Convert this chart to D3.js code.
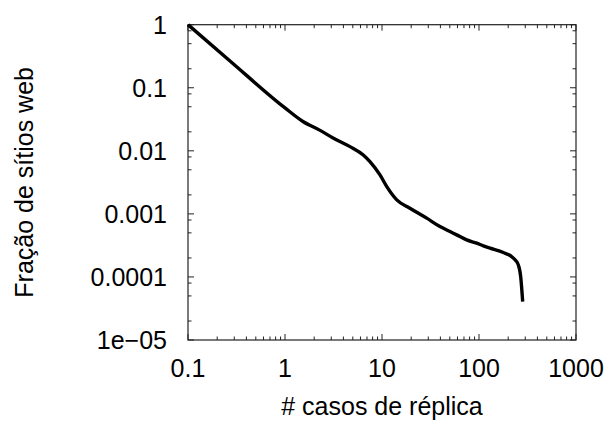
<!DOCTYPE html>
<html>
<head>
<meta charset="utf-8">
<script src="https://cdn.jsdelivr.net/npm/d3@7"></script>
<style>
  body { margin: 0; background: #fff; }
  text { font-family: "Liberation Sans", Arial, Helvetica, sans-serif; fill: #000; }
</style>
</head>
<body>
<svg id="chart" width="611" height="423"></svg>
<script>
// Data
const replicaCases = [0.1, 0.271, 1.0, 1.53, 2.30, 3.13, 4.68, 6.41, 7.51, 9.53, 11.2, 14.2, 19.4, 28.9, 39.6, 50.2, 58.9, 74.6, 94.6, 111, 130, 178, 226, 254, 269, 282];
const siteFraction = [1, 0.266, 0.0479, 0.0292, 0.0211, 0.0160, 0.01166, 0.0086, 0.00674, 0.00415, 0.00271, 0.00167, 0.00123, 0.000855, 0.000629, 0.000524, 0.000465, 0.000387, 0.000343, 0.000311, 0.000286, 0.000244, 0.000199, 0.000156, 0.000101, 0.0000407];

const xTickValues = [0.1, 1, 10, 100, 1000];
const xTickLabels = ["0.1", "1", "10", "100", "1000"];
const yTickValues = [1, 0.1, 0.01, 0.001, 0.0001, 0.00001];
const yTickLabels = ["1", "0.1", "0.01", "0.001", "0.0001", "1e\u221205"];
const xMinorMultipliers = [2, 3, 4, 5, 6, 7, 8, 9];
const yMinorMultipliers = [2, 5, 8];

const xTitle = "# casos de réplica";
const yTitle = "Fração de sítios web";

(function () {
const svg = d3.select("#chart");
const pLeft = 188, pRight = 576, pTop = 24.7, pBottom = 340;
const fs = 25;

const x = d3.scaleLog().domain([0.1, 1000]).range([pLeft, pRight]);
const y = d3.scaleLog().domain([0.00001, 1]).range([pBottom, pTop]);

const xMinor = [];
[0.1, 1, 10, 100].forEach(d => xMinorMultipliers.forEach(m => xMinor.push(d * m)));
const yMinor = [];
[0.00001, 0.0001, 0.001, 0.01, 0.1].forEach(d => yMinorMultipliers.forEach(m => yMinor.push(d * m)));

const axisColor = "#222";
const g = svg.append("g");

g.append("rect")
  .attr("x", pLeft).attr("y", pTop)
  .attr("width", pRight - pLeft).attr("height", pBottom - pTop)
  .attr("fill", "none").attr("stroke", axisColor).attr("stroke-width", 1.2);

const majorLen = 6, minorLen = 3.5;
function xTicks(vals, len) {
  vals.forEach(v => {
    g.append("line").attr("x1", x(v)).attr("x2", x(v)).attr("y1", pBottom).attr("y2", pBottom - len)
      .attr("stroke", axisColor).attr("stroke-width", 1);
    g.append("line").attr("x1", x(v)).attr("x2", x(v)).attr("y1", pTop).attr("y2", pTop + len)
      .attr("stroke", axisColor).attr("stroke-width", 1);
  });
}
function yTicks(vals, len) {
  vals.forEach(v => {
    g.append("line").attr("y1", y(v)).attr("y2", y(v)).attr("x1", pLeft).attr("x2", pLeft + len)
      .attr("stroke", axisColor).attr("stroke-width", 1);
    g.append("line").attr("y1", y(v)).attr("y2", y(v)).attr("x1", pRight).attr("x2", pRight - len)
      .attr("stroke", axisColor).attr("stroke-width", 1);
  });
}
xTicks(xTickValues, majorLen);
xTicks(xMinor, minorLen);
yTicks(yTickValues, majorLen);
yTicks(yMinor, minorLen);

xTickValues.forEach((v, i) => {
  g.append("text").attr("x", x(v)).attr("y", 377)
    .attr("text-anchor", "middle").attr("font-size", fs).text(xTickLabels[i]);
});
yTickValues.forEach((v, i) => {
  g.append("text").attr("x", 167).attr("y", y(v)).attr("dy", "0.36em")
    .attr("text-anchor", "end").attr("font-size", fs).text(yTickLabels[i]);
});

g.append("text").attr("x", (pLeft + pRight) / 2).attr("y", 415)
  .attr("text-anchor", "middle").attr("font-size", fs).text(xTitle);
g.append("text").attr("transform", `translate(33,${(pTop + pBottom) / 2}) rotate(-90)`)
  .attr("text-anchor", "middle").attr("font-size", fs).text(yTitle);

const pts = replicaCases.map((d, i) => [d, siteFraction[i]]);
g.append("path").datum(pts)
  .attr("fill", "none").attr("stroke", "#000").attr("stroke-width", 3.4)
  .attr("stroke-linejoin", "round")
  .attr("d", d3.line().x(d => x(d[0])).y(d => y(d[1])).curve(d3.curveMonotoneX));
})();
</script>
</body>
</html>
